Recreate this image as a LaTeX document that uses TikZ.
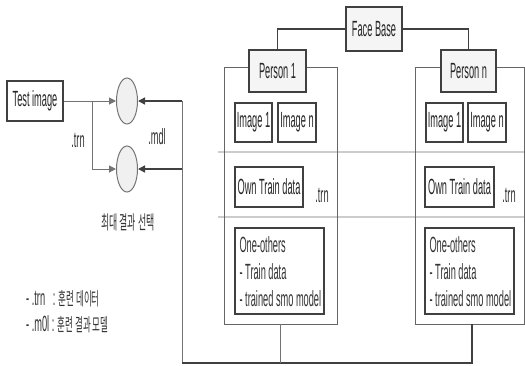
\documentclass[tikz,border=0pt]{standalone}
\usepackage{fontspec}
\setmainfont[FakeStretch=0.42]{Liberation Sans}
\newfontfamily\kr[FakeStretch=0.47]{Noto Sans CJK KR}
\usetikzlibrary{shapes.geometric,arrows.meta}
\begin{document}
\begin{tikzpicture}[x=1pt,y=-1pt,
  font=\fontsize{22}{27}\selectfont,
  bx/.style={draw=black!75,line width=1.3pt,fill=white,inner sep=0pt,text=black!85},
  gbx/.style={bx,fill=black!4},
  ell/.style={ellipse,draw=black!55,line width=1pt,fill=black!6,minimum width=21,minimum height=46,inner sep=0pt},
  outer/.style={draw=black!60,line width=1pt},
  sep/.style={draw=black!20,line width=1.6pt},
  thinl/.style={draw=black!55,line width=1pt},
  thickl/.style={draw=black!75,line width=1.4pt},
  tip/.style={-{Triangle[length=7pt,width=7pt]}},
  lbl/.style={inner sep=0pt,text=black!80}
]
\useasboundingbox (0,0) rectangle (525,365);
% separators
\draw[sep] (218,152) -- (525,152);
\draw[sep] (218,217) -- (525,217);
% outer person frames
\draw[outer] (224,67) rectangle (337,324);
\draw[outer] (415,67) rectangle (524.5,324);
% top nodes
\node[gbx,minimum width=56,minimum height=44] (fb) at (374,29) {Face Base};
\node[gbx,minimum width=57,minimum height=42] (p1) at (277.5,71) {Person 1};
\node[gbx,minimum width=55,minimum height=42] (pn) at (468.5,71) {Person n};
\draw[thickl] (fb.west) -| (p1.north);
\draw[thickl] (fb.east) -| (pn.north);
% image boxes
\node[bx,minimum width=37,minimum height=39] (i11) at (253.5,122.5) {Image 1};
\node[bx,minimum width=38,minimum height=39] (i1n) at (297,122.5) {Image n};
\node[bx,minimum width=37,minimum height=39] (in1) at (444.5,122.5) {Image 1};
\node[bx,minimum width=38,minimum height=39] (inn) at (487,122.5) {Image n};
% own train data
\node[bx,minimum width=68,minimum height=40] (o1) at (269,187) {Own Train data};
\node[bx,minimum width=69,minimum height=40] (on) at (459.5,187) {Own Train data};
\node[lbl] (t1) at (322,195) {.trn};
\node[lbl] (tn) at (509,195) {.trn};
% one-others
\node[bx,minimum width=89,minimum height=86] (a1) at (279.5,271) {};
\node[bx,minimum width=89,minimum height=86] (an) at (469.5,271) {};
\node[lbl,anchor=north west,align=left] (a1t) at ([xshift=5pt,yshift=-9pt]a1.north west) {One-others\\- Train data\\- trained smo model};
\node[lbl,anchor=north west,align=left] (ant) at ([xshift=5pt,yshift=-9pt]an.north west) {One-others\\- Train data\\- trained smo model};
% left part
\node[bx,minimum width=56,minimum height=40] (test) at (35,101) {Test image};
\node[ell] (c1) at (127,101) {};
\node[ell] (c2) at (127,169) {};
\coordinate (br) at (92,101);
\draw[thinl,tip] (test.east) -- (c1.west);
\draw[thinl,tip] (br) |- (c2.west);
\coordinate (r1) at (182,101);
\coordinate (r2) at (182,169);
\coordinate (bl) at (182,363);
\coordinate (o1b) at (280,324);
\coordinate (onb) at (472,324);
\draw[thickl,tip] (r1) -- (c1.east);
\draw[thickl,tip] (r2) -- (c2.east);
\draw[thinl] (r1) -- (bl);
\draw[thickl] (bl) -| (onb);
\draw[thinl] (o1b) -- (o1b |- bl);
% labels
\node[lbl] (ltrn) at (78,140) {.trn};
\node[lbl] (lmdl) at (157,137) {.mdl};
\node[lbl,font=\fontsize{19}{20}\selectfont\kr] (sel) at (128,222) {최대 결과 선택};
\node[lbl,anchor=west] (lg1) at (26,299) {- .trn \ \ : {\kr\fontsize{18}{20}\selectfont 훈련 데이터}};
\node[lbl,anchor=west] (lg2) at (26,324) {- .m0l : {\kr\fontsize{18}{20}\selectfont 훈련 결과 모델}};
\end{tikzpicture}
\end{document}
